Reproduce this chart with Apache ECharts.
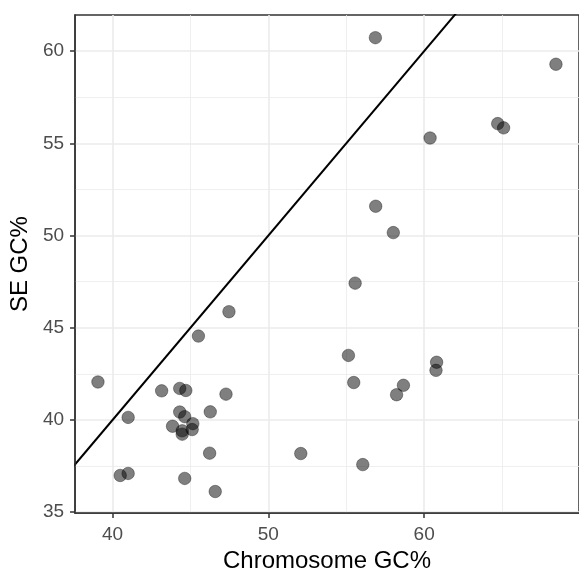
<!DOCTYPE html>
<html>
<head>
<meta charset="utf-8">
<script src="https://cdn.jsdelivr.net/npm/echarts@6/dist/echarts.min.js"></script>
<style>html,body{margin:0;padding:0;background:#fff}#c{width:579px;height:578px}</style>
</head>
<body>
<div id="c"></div>
<script>
const chromGC = [56.87,68.46,64.72,65.10,60.38,56.89,58.02,55.57,47.47,45.51,39.06,43.15,44.31,44.70,47.28,41.00,44.31,44.63,46.27,43.85,45.15,44.47,44.47,45.11,46.23,40.49,41.00,44.63,46.59,52.08,56.06,55.14,55.48,58.67,58.23,60.80,60.76];
const seGC    = [60.73,59.29,56.07,55.84,55.29,51.59,50.16,47.42,45.87,44.55,42.06,41.58,41.71,41.60,41.40,40.14,40.43,40.18,40.44,39.66,39.80,39.41,39.23,39.48,38.20,36.99,37.10,36.83,36.12,38.18,37.58,43.50,42.03,41.88,41.37,43.13,42.69];
const xTicks = [40, 50, 60];
const xMinor = [45, 55, 65];
const yTicks = [35, 40, 45, 50, 55, 60];
const yMinor = [37.5, 42.5, 47.5, 52.5, 57.5];
const identityLine = [30, 75];
const xRange = [37.59, 69.94];
const yRange = [34.95, 61.96];

const font = 'Liberation Sans, Arial, sans-serif';
const pts = chromGC.map((v, i) => [v, seGC[i]]);
const minorStyle = {color: '#ebebeb', width: 0.8, type: 'solid'};
const majorStyle = {color: '#ebebeb', width: 1.6, type: 'solid'};
const gridLines = [].concat(
  xMinor.map(v => ({xAxis: v, lineStyle: minorStyle})),
  yMinor.map(v => ({yAxis: v, lineStyle: minorStyle})),
  xTicks.map(v => ({xAxis: v, lineStyle: majorStyle})),
  yTicks.map(v => ({yAxis: v, lineStyle: majorStyle}))
);

const chart = echarts.init(document.getElementById('c'), null, {renderer: 'canvas'});
chart.setOption({
  animation: false,
  backgroundColor: '#fff',
  grid: {left: 74, top: 15, width: 507, height: 506, show: true, borderColor: '#333', borderWidth: 1.5, backgroundColor: 'transparent'},
  xAxis: {
    type: 'value', min: xRange[0], max: xRange[1],
    name: 'Chromosome GC%', nameLocation: 'middle', nameGap: 33,
    nameTextStyle: {fontFamily: font, fontSize: 24, color: '#000'},
    axisLine: {show: true, onZero: false, lineStyle: {color: '#333', width: 1.5}},
    axisTick: {show: true, customValues: xTicks, length: 5, lineStyle: {color: '#333', width: 1.5}},
    axisLabel: {customValues: xTicks, margin: 12, fontFamily: font, fontSize: 19, color: '#4d4d4d'},
    splitLine: {show: false},
    z: 10
  },
  yAxis: {
    type: 'value', min: yRange[0], max: yRange[1],
    name: 'SE GC%', nameLocation: 'middle', nameGap: 37, nameRotate: 90,
    nameTextStyle: {fontFamily: font, fontSize: 24, color: '#000'},
    axisLine: {show: true, onZero: false, lineStyle: {color: '#333', width: 1.5}},
    axisTick: {show: true, customValues: yTicks, length: 5, lineStyle: {color: '#333', width: 1.5}},
    axisLabel: {customValues: yTicks, margin: 11, fontFamily: font, fontSize: 19, color: '#4d4d4d'},
    splitLine: {show: false},
    z: 10
  },
  series: [
    {
      type: 'scatter', data: [], silent: true, z: 0,
      markLine: {silent: true, z: 0, symbol: 'none', label: {show: false}, animation: false, data: gridLines}
    },
    {
      type: 'line', data: identityLine.map(v => [v, v]), showSymbol: false, symbol: 'none', clip: true,
      lineStyle: {color: '#000', width: 2}, z: 3
    },
    {
      type: 'scatter', data: pts, symbolSize: 12.5, z: 4,
      itemStyle: {color: 'rgba(0,0,0,0.5)', borderColor: 'rgba(0,0,0,0.35)', borderWidth: 1, opacity: 1}
    }
  ]
});
</script>
</body>
</html>
